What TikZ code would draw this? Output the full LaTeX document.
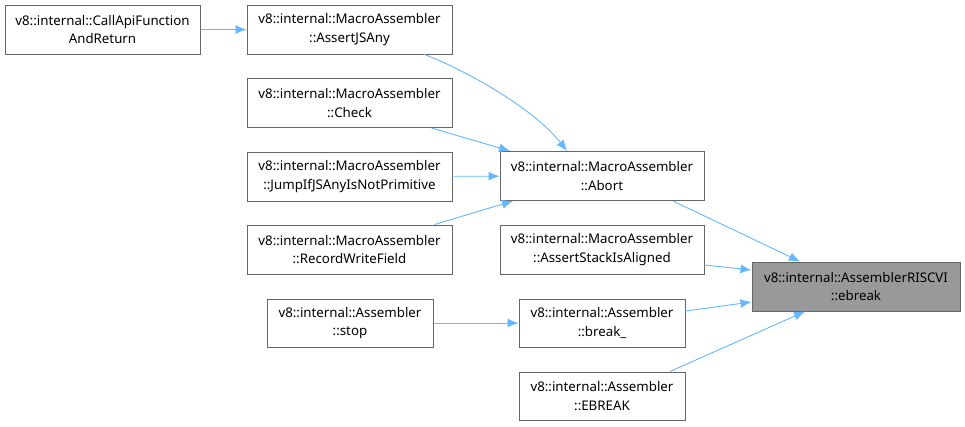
\documentclass[tikz,border=0pt]{standalone}
\usepackage{fontspec}
\setmainfont{Noto Sans}
\usetikzlibrary{arrows.meta,calc}
\definecolor{edgeblue}{HTML}{63B8FF}
\definecolor{boxgray}{HTML}{666666}
\definecolor{fillgray}{HTML}{999999}
\begin{document}
\begin{tikzpicture}[x=1pt,y=-1pt,
  box/.style={draw=boxgray,line width=1pt,fill=white,rectangle,align=center,inner sep=0pt,
    minimum height=49pt,font=\fontsize{13.3}{18.5}\selectfont},
  edge/.style={draw=edgeblue,line width=0.9pt,-{Latex[length=11pt,width=9pt]}}]
\useasboundingbox (0,0) rectangle (965,426);
\node[box,minimum width=195pt] (callapi) at (102.5,29.5) {v8::internal::CallApiFunction\\AndReturn};
\node[box,minimum width=205pt] (assertjs) at (349.5,29.5) {v8::internal::MacroAssembler\\::AssertJSAny};
\node[box,minimum width=205pt] (check) at (349.5,103) {v8::internal::MacroAssembler\\::Check};
\node[box,minimum width=205pt] (jump) at (349.5,176.5) {v8::internal::MacroAssembler\\::JumpIfJSAnyIsNotPrimitive};
\node[box,minimum width=205pt] (record) at (349.5,249.5) {v8::internal::MacroAssembler\\::RecordWriteField};
\node[box,minimum width=204pt] (abort) at (602,176) {v8::internal::MacroAssembler\\::Abort};
\node[box,minimum width=204pt] (stack) at (602,249.5) {v8::internal::MacroAssembler\\::AssertStackIsAligned};
\node[box,minimum width=208pt,fill=fillgray] (ebreak) at (856,286.5) {v8::internal::AssemblerRISCVI\\::ebreak};
\node[box,minimum width=166pt,minimum height=48pt] (stop) at (350,323) {v8::internal::Assembler\\::stop};
\node[box,minimum width=166pt,minimum height=48pt] (brk) at (602,323) {v8::internal::Assembler\\::break\_};
\node[box,minimum width=166pt,minimum height=48pt] (EBRK) at (602,396) {v8::internal::Assembler\\::EBREAK};

\draw[edge] (callapi) -- (assertjs);
\draw[edge] ($(assertjs.south)+(75,0)$) .. controls (470,72) and (535,110) .. ($(abort.north)+(-35,0)$);
\draw[edge] ($(check.south)+(82,0)$) -- ($(abort.north)+(-92,0)$);
\draw[edge] (jump) -- (abort);
\draw[edge] ($(record.north)+(85,0)$) -- ($(abort.south)+(-89,0)$);
\draw[edge] ($(abort.south)+(71,0)$) -- ($(ebreak.north)+(-56,0)$);
\draw[edge] ($(stack.east)+(0,15.5)$) -- ($(ebreak.west)+(0,-16.5)$);
\draw[edge] (stop) -- (brk);
\draw[edge] ($(brk.east)+(0,-12)$) -- ($(ebreak.west)+(0,15.5)$);
\draw[edge] ($(EBRK.north)+(68,0)$) -- ($(ebreak.south)+(-51,0)$);
\end{tikzpicture}
\end{document}
